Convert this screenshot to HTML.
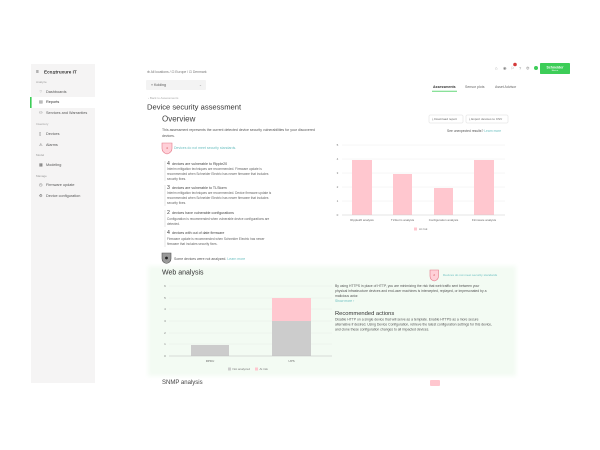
<!DOCTYPE html>
<html><head><meta charset="utf-8"><style>
html,body{margin:0;padding:0;background:#fff;width:600px;height:450px;overflow:hidden}
svg{display:block}
text{font-family:"Liberation Sans",sans-serif;dominant-baseline:central}
</style></head><body>
<svg width="600" height="450" viewBox="0 0 600 450" xmlns="http://www.w3.org/2000/svg">
<defs><filter id="bl" x="-10%" y="-10%" width="120%" height="120%"><feGaussianBlur stdDeviation="2"/></filter></defs>
<rect width="600" height="450" fill="#fff"/>

<!-- Sidebar -->
<rect x="31" y="64" width="64" height="319" fill="#f5f4f4"/>
<rect x="31" y="97" width="64" height="11" fill="#fff"/>
<rect x="30" y="97" width="1.6" height="11" fill="#3dcd58"/>
<text x="36" y="72" font-size="5" fill="#444">≡</text>
<text x="44" y="72" font-size="4.6" font-weight="bold" fill="#333">Eco<tspan font-style="italic">S</tspan>truxure IT</text>
<g font-size="3" fill="#999">
<text x="36" y="82">Analyze</text>
<text x="36" y="124">Inventory</text>
<text x="36" y="155">Model</text>
<text x="36" y="176">Manage</text>
</g>
<g font-size="3.8" fill="#555">
<text x="39" y="92">⌔</text><text x="46" y="92">Dashboards</text>
<text x="39" y="102">▤</text><text x="46" y="102" fill="#333">Reports</text>
<text x="39" y="113">⚇</text><text x="46" y="113">Services and Warranties</text>
<text x="39" y="134">▯</text><text x="46" y="134">Devices</text>
<text x="39" y="145">⚠</text><text x="46" y="145">Alarms</text>
<text x="39" y="165">▦</text><text x="46" y="165">Modeling</text>
<text x="39" y="185">◷</text><text x="46" y="185">Firmware update</text>
<text x="39" y="196">⚙</text><text x="46" y="196">Device configuration</text>
</g>

<!-- Header right -->
<g font-size="4" fill="#888">
<text x="495" y="68">⌂</text>
<text x="503" y="68">◉</text>
<text x="511" y="68">⚐</text>
<text x="519" y="68">?</text>
<text x="526" y="68">⚙</text>
</g>
<circle cx="515" cy="64.5" r="1.8" fill="#d43a3a"/>
<circle cx="536" cy="68" r="2" fill="#3dcd58"/>
<rect x="540" y="63" width="30" height="11" rx="0.8" fill="#3dcd58"/>
<text x="555" y="67.3" font-size="3.5" font-weight="bold" fill="#fff" text-anchor="middle">Schneider</text>
<text x="555" y="71" font-size="2" fill="#fff" text-anchor="middle">Electric</text>

<!-- Tabs -->
<text x="433" y="87" font-size="3.5" font-weight="bold" fill="#333">Assessments</text>
<rect x="432" y="90.8" width="25" height="0.8" fill="#3dcd58"/>
<text x="465" y="87" font-size="3.5" fill="#666">Sensor plots</text>
<text x="495" y="87" font-size="3.5" fill="#666">Asset Advisor</text>

<!-- Breadcrumb / title -->
<text x="147" y="72" font-size="3.4" fill="#777">⊕ All locations / ⊡ Europe / ⊡ Denmark</text>
<rect x="146" y="80" width="60" height="10" rx="1" fill="#f3f3f3"/>
<text x="151" y="85" font-size="3.6" fill="#555">⌖ Kolding</text>
<text x="199" y="85" font-size="3.6" fill="#888">⌄</text>
<text x="148" y="98" font-size="3" fill="#aaa">‹ Back to Assessments</text>
<text x="147" y="107" font-size="7.6" fill="#333">Device security assessment</text>
<text x="162" y="119" font-size="8" fill="#444">Overview</text>
<g font-size="3.5" fill="#555">
<text x="162" y="130">This assessment represents the current detected device security vulnerabilities for your discovered</text>
<text x="162" y="136">devices.</text>
</g>

<!-- buttons -->
<rect x="429" y="115" width="34" height="8" rx="1" fill="#fff" stroke="#ddd" stroke-width="0.5"/>
<text x="432" y="119" font-size="3.1" fill="#666">⤓ Download report</text>
<rect x="466" y="115" width="42" height="8" rx="1" fill="#fff" stroke="#ddd" stroke-width="0.5"/>
<text x="469" y="119" font-size="3.1" fill="#666">⤓ Export devices to CSV</text>
<text x="447" y="131" font-size="3.3" fill="#555">See unexpected results? <tspan fill="#6bbfc0">Learn more</tspan></text>

<!-- pink shield -->
<path d="M162,143 h10 v5.5 q0,4 -5,5.5 q-5,-1.5 -5,-5.5 z" fill="#ffd0d8" stroke="#e57a8a" stroke-width="0.6"/>
<text x="167" y="148" font-size="3" fill="#c44" text-anchor="middle">4</text>
<text x="174" y="148" font-size="3.5" fill="#6bbfc0">Devices do not meet security standards.</text>

<!-- items -->
<g stroke="#ddd" stroke-width="0.7">
<line x1="165" y1="161" x2="165" y2="181"/>
<line x1="165" y1="185" x2="165" y2="206"/>
<line x1="165" y1="210" x2="165" y2="227"/>
<line x1="165" y1="230" x2="165" y2="247"/>
</g>
<g fill="#444">
<text x="167" y="164" font-size="5.2">4</text><text x="172" y="164" font-size="3.6">devices are vulnerable to Ripple20</text>
<text x="167" y="188" font-size="5.2">3</text><text x="172" y="188" font-size="3.6">devices are vulnerable to TLStorm</text>
<text x="167" y="213" font-size="5.2">2</text><text x="172" y="213" font-size="3.6">devices have vulnerable configurations</text>
<text x="167" y="233" font-size="5.2">4</text><text x="172" y="233" font-size="3.6">devices with out of date firmware</text>
</g>
<g font-size="3.15" fill="#666">
<text x="167" y="169">Interim mitigation techniques are recommended. Firmware update is</text>
<text x="167" y="174">recommended when Schneider Electric has newer firmware that includes</text>
<text x="167" y="179">security fixes.</text>
<text x="167" y="193">Interim mitigation techniques are recommended. Device firmware update is</text>
<text x="167" y="198">recommended when Schneider Electric has newer firmware that includes</text>
<text x="167" y="203">security fixes.</text>
<text x="167" y="219">Configuration is recommended when vulnerable device configurations are</text>
<text x="167" y="224">detected.</text>
<text x="167" y="239">Firmware update is recommended when Schneider Electric has newer</text>
<text x="167" y="244">firmware that includes security fixes.</text>
</g>

<!-- gray shield -->
<path d="M162,253 h9 v5.5 q0,4 -4.5,5 q-4.5,-1 -4.5,-5 z" fill="#999" stroke="#555" stroke-width="0.6"/>
<circle cx="166.5" cy="258" r="1.4" fill="#222"/>
<text x="174" y="259" font-size="3.5" fill="#555">Some devices were not analyzed. <tspan fill="#6bbfc0">Learn more</tspan></text>

<!-- right chart -->
<g stroke="#eee" stroke-width="0.5">
<line x1="342" y1="145" x2="505" y2="145"/>
<line x1="342" y1="159" x2="505" y2="159"/>
<line x1="342" y1="173" x2="505" y2="173"/>
<line x1="342" y1="187" x2="505" y2="187"/>
<line x1="342" y1="201" x2="505" y2="201"/>
</g>
<g font-size="3" fill="#777" text-anchor="middle">
<text x="337.5" y="145">5</text><text x="337.5" y="159">4</text><text x="337.5" y="173">3</text>
<text x="337.5" y="187">2</text><text x="337.5" y="201">1</text><text x="337.5" y="215">0</text>
</g>
<g fill="#ffc7cf">
<rect x="352" y="160" width="20" height="55"/>
<rect x="393" y="174" width="19" height="41"/>
<rect x="434" y="188" width="19" height="27"/>
<rect x="474" y="160" width="20" height="55"/>
</g>
<line x1="342" y1="215" x2="505" y2="215" stroke="#ccc" stroke-width="0.6"/>
<g font-size="3" fill="#666" text-anchor="middle">
<text x="362" y="220">Ripple20 analysis</text>
<text x="402.5" y="220">TLStorm analysis</text>
<text x="443.5" y="220">Configuration analysis</text>
<text x="484" y="220">Firmware analysis</text>
</g>
<rect x="414" y="227.5" width="3" height="3" fill="#ffc7cf"/>
<text x="419" y="229" font-size="3" fill="#777">At risk</text>

<!-- Web analysis section -->
<rect x="148" y="266" width="368" height="110" fill="#f3fbf3" filter="url(#bl)"/>
<text x="162" y="273" font-size="7" fill="#333">Web analysis</text>
<g stroke="#e6ece6" stroke-width="0.5">
<line x1="169" y1="286" x2="332" y2="286"/>
<line x1="169" y1="298" x2="332" y2="298"/>
<line x1="169" y1="309" x2="332" y2="309"/>
<line x1="169" y1="321" x2="332" y2="321"/>
<line x1="169" y1="333" x2="332" y2="333"/>
<line x1="169" y1="344" x2="332" y2="344"/>
</g>
<g font-size="3" fill="#777" text-anchor="middle">
<text x="165" y="286">6</text><text x="165" y="298">5</text><text x="165" y="309">4</text>
<text x="165" y="321">3</text><text x="165" y="333">2</text><text x="165" y="344">1</text><text x="165" y="356">0</text>
</g>
<rect x="191" y="345" width="38" height="11" fill="#cccccc"/>
<rect x="272" y="321" width="39" height="35" fill="#cccccc"/>
<rect x="272" y="298" width="39" height="23" fill="#ffc7cf"/>
<line x1="169" y1="356" x2="332" y2="356" stroke="#bbb" stroke-width="0.6"/>
<g font-size="3" fill="#666" text-anchor="middle">
<text x="210" y="361">RPDU</text><text x="291.5" y="361">UPS</text>
</g>
<rect x="228" y="367.5" width="3" height="3" fill="#cccccc"/>
<text x="232.5" y="369" font-size="3" fill="#777">Not analyzed</text>
<rect x="255" y="367.5" width="3" height="3" fill="#ffc7cf"/>
<text x="259.5" y="369" font-size="3" fill="#777">At risk</text>

<path d="M430,270 h8.5 v6 q0,4 -4.25,5 q-4.25,-1 -4.25,-5 z" fill="#ffd0d8" stroke="#e57a8a" stroke-width="0.6"/>
<text x="434.2" y="275" font-size="2.8" fill="#c44" text-anchor="middle">2</text>
<text x="443" y="275" font-size="3.1" fill="#6bbfc0">Devices do not meet security standards</text>
<g font-size="3.4" fill="#555">
<text x="335" y="286">By using HTTPS in place of HTTP, you are minimizing the risk that web traffic sent between your</text>
<text x="335" y="291">physical infrastructure devices and end-user machines is intercepted, replayed, or impersonated by a</text>
<text x="335" y="296">malicious actor.</text>
<text x="335" y="301" fill="#6bbfc0">Show more ›</text>
</g>
<text x="335" y="314" font-size="5.8" fill="#333">Recommended actions</text>
<g font-size="3.4" fill="#555">
<text x="335" y="319.5">Disable HTTP on a single device that will serve as a template. Enable HTTPS as a more secure</text>
<text x="335" y="324.5">alternative if desired. Using Device Configuration, retrieve the latest configuration settings for this device,</text>
<text x="335" y="329.5">and clone these configuration changes to all impacted devices.</text>
</g>

<!-- SNMP -->
<text x="162" y="383" font-size="6" fill="#444">SNMP analysis</text>
<rect x="430" y="380" width="10" height="6" rx="1" fill="#ffc7cf"/>
</svg>
</body></html>
